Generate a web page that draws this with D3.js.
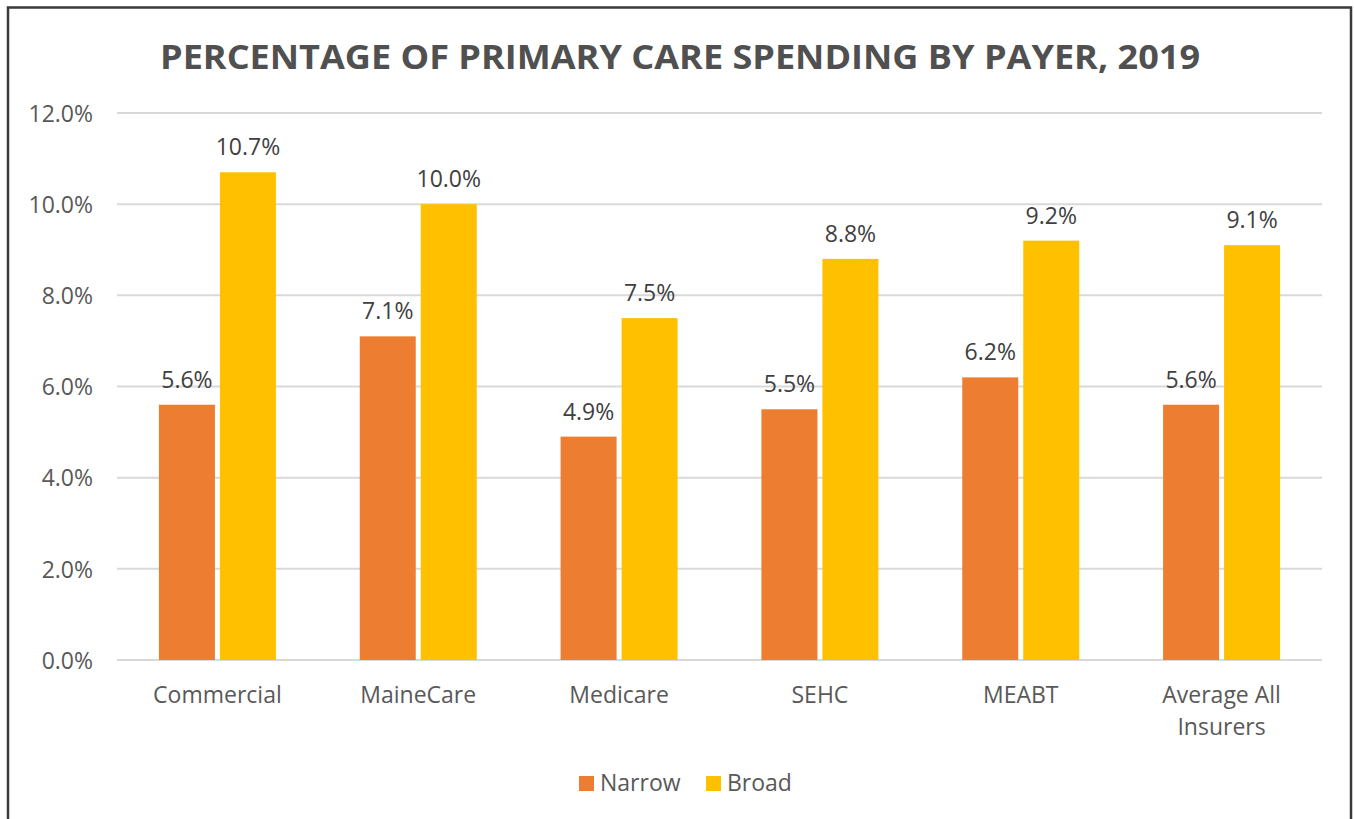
<!DOCTYPE html>
<html><head><meta charset="utf-8">
<script src="https://cdn.jsdelivr.net/npm/d3@7"></script>
<style>html,body{margin:0;padding:0;background:#fff;}svg{display:block;}</style>
</head><body>
<svg id="chart" width="1354" height="819"></svg>
<script>
const title = "PERCENTAGE OF PRIMARY CARE SPENDING BY PAYER, 2019";
const categories = ["Commercial", "MaineCare", "Medicare", "SEHC", "MEABT", "Average All Insurers"];
const seriesNames = ["Narrow", "Broad"];
const narrowValues = [5.6, 7.1, 4.9, 5.5, 6.2, 5.6];
const broadValues = [10.7, 10.0, 7.5, 8.8, 9.2, 9.1];
const yTicks = [0, 2, 4, 6, 8, 10, 12];
const colors = ["#ED7D31", "#FFC000"];

const font = "'Open Sans', sans-serif";
const svg = d3.select("#chart");

// border
svg.append("rect").attr("x", 8).attr("y", 7.5).attr("width", 1343).attr("height", 830)
  .attr("fill", "none").attr("stroke", "#3a3a3a").attr("stroke-width", 2.5);

const margin = {left: 117, right: 1322, top: 113, bottom: 660};
const x = d3.scaleBand().domain(categories).range([margin.left, margin.right]).paddingInner(0).paddingOuter(0);
const y = d3.scaleLinear().domain([0, 12]).range([margin.bottom, margin.top]);

// title
const t = svg.append("text").attr("x", 680).attr("y", 69).attr("text-anchor", "middle")
  .attr("font-family", font).attr("font-weight", "bold").attr("font-size", 34)
  .attr("fill", "#505050").text(title);
t.attr("textLength", 1040).attr("lengthAdjust", "spacingAndGlyphs");

// grid
svg.append("g").selectAll("line").data(yTicks).join("line")
  .attr("x1", margin.left).attr("x2", margin.right)
  .attr("y1", d => y(d)).attr("y2", d => y(d))
  .attr("stroke", "#d9d9d9").attr("stroke-width", 2);

// y axis labels
const yAxis = d3.axisLeft(y).tickValues(yTicks).tickFormat(d => d.toFixed(1) + "%").tickSize(0).tickPadding(0);
const ya = svg.append("g").attr("transform", `translate(93,0)`).call(yAxis);
ya.select(".domain").remove();
ya.selectAll("text").attr("font-family", font).attr("font-size", 23).attr("fill", "#595959").attr("dy", "0.36em");

// bars
const barW = 56, gap = 5;
const data = categories.map((c, i) => ({c, vals: [narrowValues[i], broadValues[i]]}));
const g = svg.append("g");
data.forEach(d => {
  const cx = x(d.c) + x.bandwidth() / 2;
  d.vals.forEach((v, s) => {
    const bx = s === 0 ? cx - gap / 2 - barW : cx + gap / 2;
    g.append("rect").attr("x", bx).attr("y", y(v)).attr("width", barW).attr("height", y(0) - y(v))
      .attr("fill", colors[s]);
    g.append("text").attr("x", bx + barW / 2).attr("y", y(v) - 17).attr("text-anchor", "middle")
      .attr("font-family", font).attr("font-size", 23).attr("fill", "#404040").text(v.toFixed(1) + "%");
  });
});

// x labels
const xAxis = d3.axisBottom(x).tickSize(0).tickPadding(0);
const xa = svg.append("g").attr("transform", `translate(0,${margin.bottom})`).call(xAxis);
xa.select(".domain").remove();
xa.selectAll("text").attr("font-family", font).attr("font-size", 23).attr("fill", "#595959")
  .attr("dy", 0).attr("y", 0)
  .each(function(d) {
    const el = d3.select(this);
    el.text(null);
    const lines = d === "Average All Insurers" ? ["Average All", "Insurers"] : [d];
    lines.forEach((ln, i) => el.append("tspan").attr("x", 0).attr("y", 43 + i * 32).text(ln));
  });

// legend
const legend = svg.append("g");
const legendItems = [{n: seriesNames[0], x: 579}, {n: seriesNames[1], x: 706}];
legendItems.forEach((it, i) => {
  legend.append("rect").attr("x", it.x).attr("y", 776).attr("width", 15).attr("height", 15).attr("fill", colors[i]);
  legend.append("text").attr("x", it.x + 21).attr("y", 791).attr("font-family", font).attr("font-size", 23)
    .attr("fill", "#595959").text(it.n);
});
</script>
</body></html>
